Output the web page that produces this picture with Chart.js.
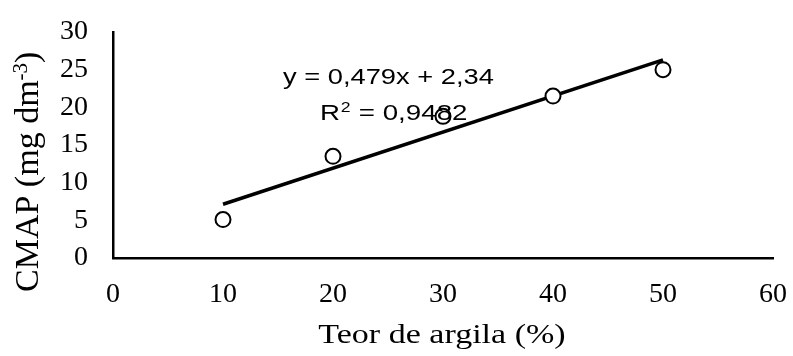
<!DOCTYPE html>
<html>
<head>
<meta charset="utf-8">
<script src="https://cdn.jsdelivr.net/npm/chart.js@4/dist/chart.umd.min.js"></script>
<style>
  html, body { margin: 0; padding: 0; background: #fff; }
  #c { display: block; }
</style>
</head>
<body>
<canvas id="c" width="793" height="356"></canvas>
<script>
// Clay content (%) and measured CMAP (mg dm-3)
const clayContent = [10, 20, 30, 40, 50];
const cmapValues  = [5.1, 13.5, 18.8, 21.5, 25.0];

// Fitted linear regression, as reported
const slope = 0.479;
const intercept = 2.34;
const rSquared = '0,9482';
const fitRange = [10, 50];

// Axis ticks
const xTicks = [0, 10, 20, 30, 40, 50, 60];
const yTicks = [0, 5, 10, 15, 20, 25, 30];

const xTitle = 'Teor de argila (%)';
const yTitleMain = 'CMAP (mg dm';
const yTitleSup = '-3';
const yTitleEnd = ')';
const eqLine1 = 'y = ' + String(slope).replace('.', ',') + 'x + ' + String(intercept).replace('.', ',');
const eqLine2 = ' = ' + rSquared;

const serif = '"Liberation Serif", "Times New Roman", serif';
const sans = '"Liberation Sans", Arial, sans-serif';
const ink = '#000';

const pointData = clayContent.map((x, i) => ({ x: x, y: cmapValues[i] }));
const fitData = fitRange.map(x => ({ x: x, y: slope * x + intercept }));

function stretchedText(ctx, text, x, y, sx, sy) {
  ctx.save();
  ctx.translate(x, y);
  ctx.scale(sx, sy);
  ctx.fillText(text, 0, 0);
  ctx.restore();
}

const labelsPlugin = {
  id: 'labels',
  afterDraw(chart) {
    const ctx = chart.ctx;
    const area = chart.chartArea;
    ctx.save();
    ctx.fillStyle = ink;
    ctx.textBaseline = 'alphabetic';

    // x-axis title
    ctx.font = '27px ' + serif;
    ctx.textAlign = 'center';
    stretchedText(ctx, xTitle, (area.left + area.right) / 2 - 1, 343, 1.26, 1);

    // y-axis title, rotated, with superscript exponent
    ctx.save();
    ctx.translate(38, 292);
    ctx.rotate(-Math.PI / 2);
    ctx.textAlign = 'left';
    ctx.font = '34px ' + serif;
    ctx.fillText(yTitleMain, 0, 0);
    let w = ctx.measureText(yTitleMain).width;
    ctx.font = '21px ' + serif;
    ctx.fillText(yTitleSup, w, -11);
    w += ctx.measureText(yTitleSup).width;
    ctx.font = '34px ' + serif;
    ctx.fillText(yTitleEnd, w, 0);
    ctx.restore();

    // regression equation and R²
    ctx.textAlign = 'left';
    ctx.font = '22px ' + sans;
    stretchedText(ctx, eqLine1, 283, 84, 1.24, 1);
    ctx.save();
    ctx.translate(320, 120);
    ctx.scale(1.26, 1);
    ctx.fillText('R', 0, 0);
    let rw = ctx.measureText('R').width;
    ctx.font = '14px ' + sans;
    ctx.fillText('2', rw + 0.5, -8);
    rw += ctx.measureText('2').width + 1;
    ctx.font = '22px ' + sans;
    ctx.fillText(eqLine2, rw, 0);
    ctx.restore();

    ctx.restore();
  }
};

new Chart(document.getElementById('c'), {
  type: 'scatter',
  data: {
    datasets: [
      {
        label: 'CMAP',
        data: pointData,
        pointStyle: 'circle',
        pointRadius: 7.5,
        pointHoverRadius: 7.5,
        pointBackgroundColor: '#fff',
        pointBorderColor: ink,
        pointBorderWidth: 2,
        showLine: false
      },
      {
        label: 'Linear',
        data: fitData,
        showLine: true,
        borderColor: '#000',
        borderWidth: 3.5,
        pointRadius: 0,
        pointHoverRadius: 0,
        fill: false
      }
    ]
  },
  options: {
    responsive: false,
    animation: false,
    events: [],
    layout: { padding: { top: 32, right: 20, left: 0, bottom: 0 } },
    plugins: {
      legend: { display: false },
      tooltip: { enabled: false },
      title: { display: false }
    },
    scales: {
      x: {
        type: 'linear',
        min: 0,
        max: 60,
        afterBuildTicks(scale) { scale.ticks = xTicks.map(v => ({ value: v })); },
        afterFit(scale) {
          scale.height = 98;
          scale.paddingLeft = 0;
          scale.paddingRight = 0;
        },
        grid: { display: false, drawTicks: false },
        border: { display: true, color: '#000', width: 2.5 },
        ticks: {
          color: ink,
          padding: 20,
          maxRotation: 0,
          autoSkip: false,
          font: { family: serif, size: 28 }
        },
        title: { display: false }
      },
      y: {
        type: 'linear',
        min: 0,
        max: 30,
        afterBuildTicks(scale) { scale.ticks = yTicks.map(v => ({ value: v })); },
        afterFit(scale) {
          scale.width = 113;
          scale.paddingTop = 0;
          scale.paddingBottom = 0;
        },
        grid: { display: false, drawTicks: false },
        border: { display: true, color: '#000', width: 2.5 },
        ticks: {
          color: ink,
          padding: 25,
          autoSkip: false,
          font: { family: serif, size: 28 }
        },
        title: { display: false }
      }
    }
  },
  plugins: [labelsPlugin]
});
</script>
</body>
</html>
